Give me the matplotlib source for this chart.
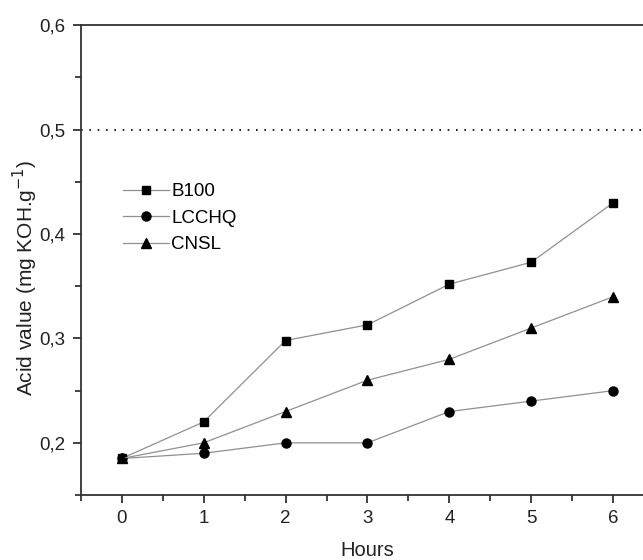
import matplotlib.pyplot as plt
from matplotlib.ticker import MultipleLocator, FuncFormatter

plt.rcParams['font.family'] = ['Liberation Sans', 'DejaVu Sans']

hours = [0, 1, 2, 3, 4, 5, 6]
b100 = [0.185, 0.220, 0.298, 0.313, 0.352, 0.373, 0.430]
lcchq = [0.185, 0.190, 0.200, 0.200, 0.230, 0.240, 0.250]
cnsl = [0.185, 0.200, 0.230, 0.260, 0.280, 0.310, 0.340]
limit = 0.5


def comma(v, pos):
    # decimal comma as in the original
    return ('%.1f' % v).replace('.', ',')


fig = plt.figure(figsize=(6.43, 5.6), dpi=100)
ax = fig.add_axes([0.1255, 0.116, 0.892, 0.839])

line_kw = dict(color='#909090', lw=0.9, markerfacecolor='black',
               markeredgecolor='black')
ax.plot(hours, b100, marker='s', ms=5.5, label='B100', **line_kw)
ax.plot(hours, lcchq, marker='o', ms=6.5, label='LCCHQ', **line_kw)
ax.plot(hours, cnsl, marker='^', ms=7.5, label='CNSL', **line_kw)
ax.axhline(limit, color='black', ls=(0, (1, 4)), lw=1.2)

ax.set_xlim(-0.5, 6.5)
ax.set_ylim(0.15, 0.6)
ax.xaxis.set_major_locator(MultipleLocator(1))
ax.xaxis.set_minor_locator(MultipleLocator(0.5))
ax.yaxis.set_major_locator(MultipleLocator(0.1))
ax.yaxis.set_minor_locator(MultipleLocator(0.05))
ax.yaxis.set_major_formatter(FuncFormatter(comma))
ax.tick_params(which='both', direction='out', width=1.2, labelsize=13.5,
               colors='#222222')
ax.tick_params(which='major', length=6, pad=5)
ax.tick_params(which='minor', length=4)
ax.spines['right'].set_visible(False)
for s in ['left', 'top', 'bottom']:
    ax.spines[s].set_linewidth(1.3)
    ax.spines[s].set_color('#333333')

ax.set_xlabel('Hours', fontsize=14.5, color='#222222', va='center')
ax.xaxis.set_label_coords(0.5, -0.117)
ax.set_ylabel('Acid value (mg KOH.g$^{-1}$)', fontsize=15, color='#222222',
              va='center')
ax.yaxis.set_label_coords(-0.097, 0.462)

ax.legend(loc='upper left', bbox_to_anchor=(0.06, 0.68), frameon=False,
          fontsize=13.5, handlelength=2.45, handletextpad=0.15,
          labelspacing=0.5, borderaxespad=0)

fig.savefig('out.png', dpi=100)
